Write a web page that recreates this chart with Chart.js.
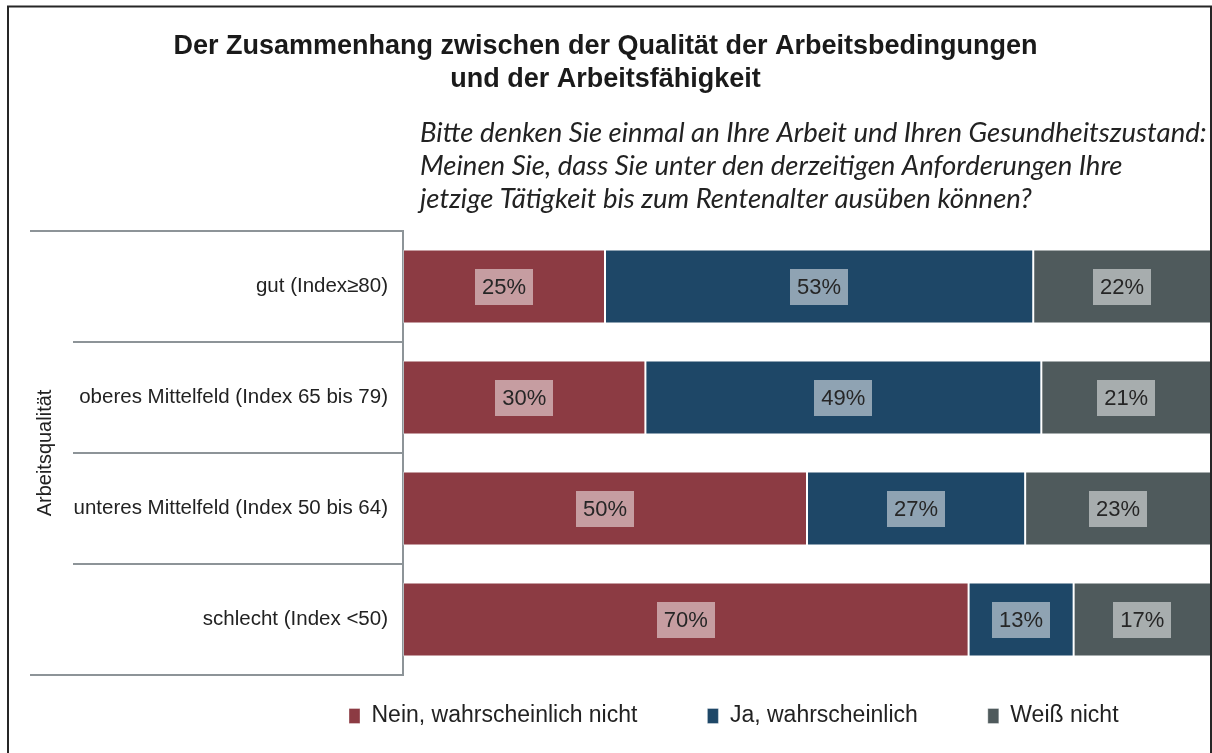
<!DOCTYPE html>
<html><head><meta charset="utf-8">
<script src="https://cdn.jsdelivr.net/npm/chart.js@4.4.1/dist/chart.umd.min.js"></script>
<style>html,body{margin:0;padding:0;background:#fff;}#wrap{width:1212px;height:753px;position:relative;}canvas{display:block;}</style>
</head><body><div id="wrap"><canvas id="c" width="1212" height="753"></canvas></div>
<script>
const titleLines = ['Der Zusammenhang zwischen der Qualität der Arbeitsbedingungen', 'und der Arbeitsfähigkeit'];
const subtitleLines = ['Bitte denken Sie einmal an Ihre Arbeit und Ihren Gesundheitszustand:', 'Meinen Sie, dass Sie unter den derzeitigen Anforderungen Ihre', 'jetzige Tätigkeit bis zum Rentenalter ausüben können?'];
const categories = ['gut (Index≥80)', 'oberes Mittelfeld (Index 65 bis 79)', 'unteres Mittelfeld (Index 50 bis 64)', 'schlecht (Index <50)'];
const axisTitle = 'Arbeitsqualität';
const seriesNames = ['Nein, wahrscheinlich nicht', 'Ja, wahrscheinlich', 'Weiß nicht'];
const neinValues = [25, 30, 50, 70];
const jaValues = [53, 49, 27, 13];
const weissValues = [22, 21, 23, 17];

const colors = ['#8C3B43', '#1E4767', '#4F5A5C'];
const FONT = '"Liberation Sans", Arial, sans-serif';

// fit subtitle font to reference width
const mctx = document.createElement('canvas').getContext('2d');
mctx.font = 'italic 100px Lato';
const subSize = 100 * 787 / mctx.measureText(subtitleLines[0]).width;

const framePlugin = {
  id: 'frame',
  afterDraw(chart) {
    const ctx = chart.ctx;
    ctx.save();
    ctx.strokeStyle = '#262626';
    ctx.lineWidth = 2;
    ctx.beginPath();
    ctx.moveTo(8, 753); ctx.lineTo(8, 6.5); ctx.lineTo(1211, 6.5); ctx.lineTo(1211, 753);
    ctx.stroke();
    ctx.restore();
  }
};

const separatorPlugin = {
  id: 'separators',
  afterDraw(chart) {
    const ctx = chart.ctx, ys = chart.scales.y, n = chart.data.labels.length;
    ctx.save();
    ctx.strokeStyle = '#8d9498';
    ctx.lineWidth = 2;
    for (let i = 0; i <= n; i++) {
      let y;
      if (i === 0) y = ys.top;
      else if (i === n) y = ys.bottom;
      else y = (ys.getPixelForValue(i - 1) + ys.getPixelForValue(i)) / 2;
      const x0 = (i === 0 || i === n) ? 30 : 73;
      ctx.beginPath();
      ctx.moveTo(x0, y); ctx.lineTo(chart.chartArea.left, y);
      ctx.stroke();
    }
    ctx.restore();
  }
};

const subtitlePlugin = {
  id: 'subtitleText',
  afterDraw(chart) {
    const ctx = chart.ctx;
    ctx.save();
    ctx.fillStyle = '#222';
    ctx.font = 'italic ' + subSize.toFixed(2) + 'px Lato';
    ctx.textAlign = 'left';
    ctx.textBaseline = 'alphabetic';
    subtitleLines.forEach((t, i) => ctx.fillText(t, 420, 142 + i * 33));
    ctx.restore();
  }
};

const valueLabelPlugin = {
  id: 'valueLabels',
  afterDatasetsDraw(chart) {
    const ctx = chart.ctx;
    ctx.save();
    ctx.font = '22px ' + FONT;
    ctx.textAlign = 'center';
    ctx.textBaseline = 'middle';
    chart.data.datasets.forEach((ds, di) => {
      const meta = chart.getDatasetMeta(di);
      meta.data.forEach((bar, j) => {
        const p = bar.getProps(['x', 'y', 'base'], true);
        const cx = (p.x + p.base) / 2, cy = p.y;
        const txt = ds.data[j] + '%';
        const w = ctx.measureText(txt).width + 14, h = 36;
        ctx.fillStyle = 'rgba(255,255,255,0.5)';
        ctx.fillRect(Math.round(cx - w / 2), Math.round(cy - h / 2), Math.round(w), h);
        ctx.fillStyle = '#262626';
        ctx.fillText(txt, cx, cy + 1);
      });
    });
    ctx.restore();
  }
};

const legendShiftPlugin = {
  id: 'legendShift',
  afterLayout(chart) {
    const lg = chart.legend;
    if (!lg || !lg.lineWidths) return;
    const pad = lg.options.labels.padding;
    const start = (lg.left + pad + lg.right - lg.lineWidths[0]) / 2;
    const dx = 349 - start;
    lg.left += dx; lg.right += dx;
    const fs = lg.options.labels.font.size;
    const itemH = Math.max(fs, lg.options.labels.boxHeight);
    lg.top = 716 - pad - itemH / 2;
  }
};

new Chart(document.getElementById('c'), {
  type: 'bar',
  data: {
    labels: categories,
    datasets: [
      { label: seriesNames[0], data: neinValues, backgroundColor: colors[0] },
      { label: seriesNames[1], data: jaValues, backgroundColor: colors[1] },
      { label: seriesNames[2], data: weissValues, backgroundColor: colors[2] }
    ].map(d => Object.assign(d, { borderColor: 'rgba(255,255,255,0.35)', borderWidth: 1, borderSkipped: false, categoryPercentage: 1, barPercentage: 0.667 }))
  },
  options: {
    indexAxis: 'y',
    responsive: false,
    animation: false,
    devicePixelRatio: 1,
    layout: { padding: { left: 0, right: 1, top: 0, bottom: 0 } },
    scales: {
      x: { display: false, stacked: true, min: 0, max: 100 },
      y: {
        stacked: true,
        grid: { display: false },
        border: { display: true, color: '#8d9498', width: 2 },
        ticks: { color: '#222', font: { family: FONT, size: 20.5 }, padding: 7 },
        title: { display: true, text: axisTitle, color: '#222', font: { family: FONT, size: 20, lineHeight: 1.2 }, padding: { top: 33, bottom: 0 } },
        afterFit(scale) { scale.width = 403; }
      }
    },
    plugins: {
      title: {
        display: true,
        text: titleLines,
        color: '#1a1a1a',
        font: { family: FONT, size: 27, weight: 'bold', lineHeight: 33 / 27 },
        padding: { top: 30, bottom: 135 }
      },
      legend: {
        position: 'bottom',
        maxHeight: 78,
        labels: { color: '#222', font: { family: FONT, size: 23 }, boxWidth: 11, boxHeight: 15, padding: 70 }
      },
      tooltip: { enabled: false }
    }
  },
  plugins: [separatorPlugin, subtitlePlugin, valueLabelPlugin, legendShiftPlugin, framePlugin]
});
</script></body></html>
